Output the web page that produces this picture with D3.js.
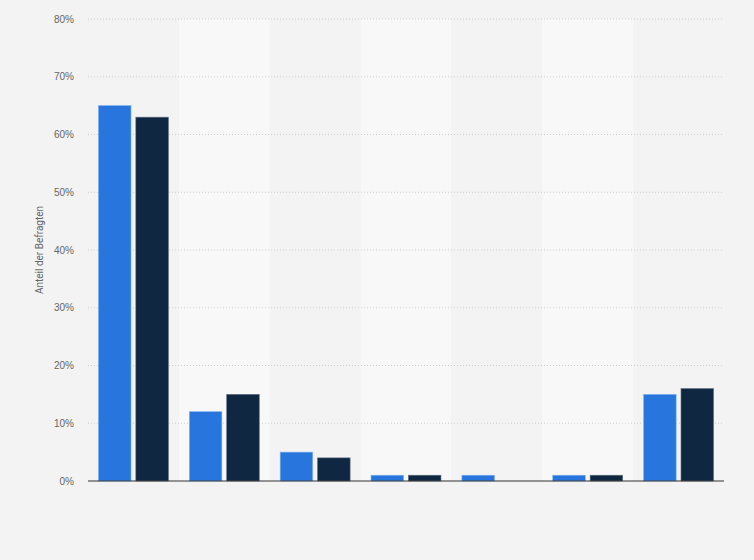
<!DOCTYPE html>
<html>
<head>
<meta charset="utf-8">
<script src="https://cdn.jsdelivr.net/npm/d3@7"></script>
<style>
body { margin: 0; background: #f3f3f3; }
svg { display: block; font-family: Roboto, "Open Sans", Arial, sans-serif; }
</style>
</head>
<body>
<svg id="chart" width="754" height="560"></svg>
<script>
var categories = ["A", "B", "C", "D", "E", "F", "G"];
var series1 = [65, 12, 5, 1, 1, 1, 15];
var series2 = [63, 15, 4, 1, 0, 1, 16];
var yTicks = [0, 10, 20, 30, 40, 50, 60, 70, 80];

var margin = {top: 19, right: 30, bottom: 79, left: 88};
var width = 754 - margin.left - margin.right;
var height = 560 - margin.top - margin.bottom;

var svg = d3.select("#chart");
svg.append("rect").attr("width", 754).attr("height", 560).attr("fill", "#f3f3f3");

var g = svg.append("g").attr("transform", "translate(" + margin.left + "," + margin.top + ")");

var x = d3.scaleBand().domain(categories).range([0, width]);
var x1 = d3.scaleBand().domain([0, 1]).range([0, x.bandwidth()]).paddingInner(0.13).paddingOuter(0.28);
var y = d3.scaleLinear().domain([0, 80]).range([height, 0]);

// alternating column bands
g.selectAll(".band")
    .data(categories)
    .enter().append("rect")
    .attr("class", "band")
    .attr("x", function(d) { return x(d); })
    .attr("y", 0)
    .attr("width", x.bandwidth())
    .attr("height", height)
    .attr("fill", function(d, i) { return i % 2 == 1 ? "#f8f8f8" : "#f3f3f3"; });

// grid
g.selectAll(".grid")
    .data(yTicks.slice(1))
    .enter().append("line")
    .attr("x1", 0).attr("x2", width)
    .attr("y1", function(d) { return y(d); })
    .attr("y2", function(d) { return y(d); })
    .attr("stroke", "#cfcfcf")
    .attr("stroke-width", 1)
    .attr("stroke-dasharray", "1,2");

var yAxis = d3.axisLeft(y).tickValues(yTicks).tickSize(0).tickPadding(14)
    .tickFormat(function(d) { return d + "%"; });
var ya = g.append("g").call(yAxis);
ya.select(".domain").remove();
ya.selectAll("text").attr("fill", "#666").style("font-size", "10px");

var data = categories.map(function(c, i) { return {cat: c, vals: [series1[i], series2[i]]}; });
var colors = ["#2876dd", "#0f2741"];
var strokes = ["#7fb0f0", "#5a6b80"];

var grp = g.selectAll(".grp")
    .data(data)
    .enter().append("g")
    .attr("transform", function(d) { return "translate(" + x(d.cat) + ",0)"; });

grp.selectAll("rect")
    .data(function(d) { return d.vals.map(function(v, k) { return {k: k, v: v}; }); })
    .enter().filter(function(d) { return d.v > 0; }).append("rect")
    .attr("x", function(d) { return x1(d.k); })
    .attr("y", function(d) { return y(d.v); })
    .attr("width", x1.bandwidth())
    .attr("height", function(d) { return height - y(d.v); })
    .attr("fill", function(d) { return colors[d.k]; })
    .attr("stroke", function(d) { return strokes[d.k]; })
    .attr("stroke-width", 0.6);

// baseline
g.append("line")
    .attr("x1", 0).attr("x2", width)
    .attr("y1", y(0)).attr("y2", y(0))
    .attr("stroke", "#333")
    .attr("stroke-width", 1.2);

svg.append("text")
    .attr("transform", "translate(43," + (margin.top + height / 2) + ") rotate(-90)")
    .attr("text-anchor", "middle")
    .attr("fill", "#666")
    .style("font-size", "10px")
    .text("Anteil der Befragten");
</script>
</body>
</html>
